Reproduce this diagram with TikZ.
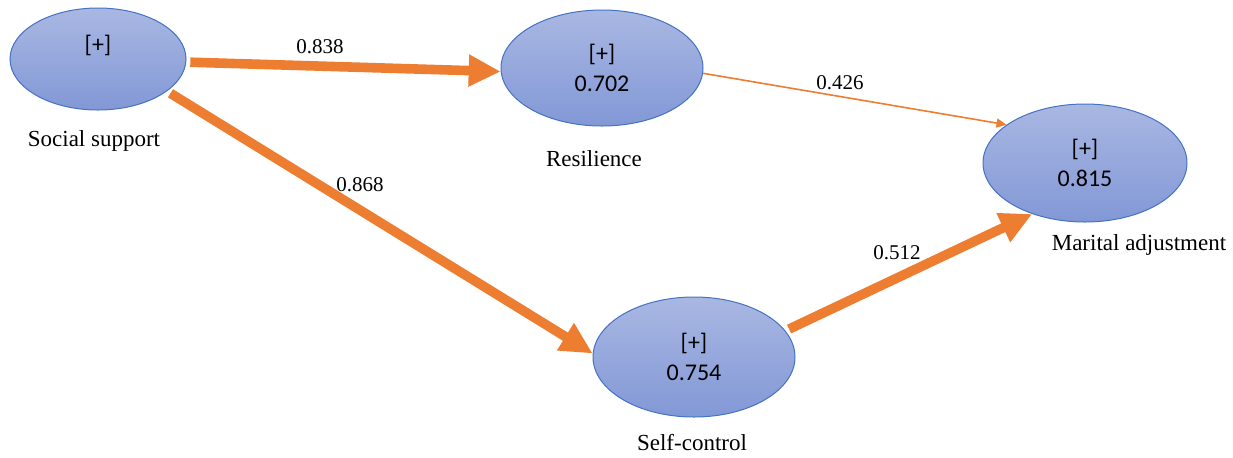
\documentclass[tikz,border=0pt]{standalone}
\usepackage{fontspec}
\setmainfont{Liberation Serif}
\newfontfamily\innerfont{Carlito}
\usetikzlibrary{arrows.meta,positioning,shapes.geometric}
\definecolor{latblue}{HTML}{4472C4}
\definecolor{filltop}{HTML}{A9B7E2}
\definecolor{fillbot}{HTML}{8298D6}
\definecolor{pathorange}{HTML}{ED7D31}
\tikzset{
  latent/.style={ellipse, draw=latblue, line width=0.5pt, top color=filltop, bottom color=fillbot,
                 minimum width=#1, align=center, inner sep=0pt, font=\innerfont\fontsize{12}{15}\selectfont},
  latent/.default={101pt},
  lbl/.style={inner sep=0pt, font=\fontsize{11.5}{13}\selectfont},
  coef/.style={inner sep=0pt, font=\fontsize{10.5}{12}\selectfont},
  thick arr/.style={-{Triangle[length=16pt, width=15pt]}, line width=4.8pt, draw=pathorange, shorten <=2pt},
  thin arr/.style={-{Triangle[length=5pt, width=4.5pt]}, line width=0.8pt, draw=pathorange},
}
\begin{document}
\begin{tikzpicture}[x=0.5pt, y=-0.5pt]
  \useasboundingbox (0,0) rectangle (1233,457);
  % latent variables
  \node[latent=88pt, minimum height=51pt] (ss) at (98,59) {[+]\\\mbox{}};
  \node[latent, minimum height=58pt] (res) at (602,68) {[+]\\0.702};
  \node[latent=102pt, minimum height=59pt] (ma) at (1085,163) {[+]\\0.815};
  \node[latent, minimum height=60pt] (sc) at (694,357) {[+]\\0.754};
  % names
  \node[lbl, below=10pt of ss, xshift=-2pt] (ssl) {Social support};
  \node[lbl, below=12pt of res, xshift=-4pt] (resl) {Resilience};
  \node[lbl, below=6pt of ma, xshift=27pt] (mal) {Marital adjustment};
  \node[lbl, below=8pt of sc, xshift=-1pt] (scl) {Self-control};
  % paths
  \draw[thick arr] (ss.-2) -- (res.182);
  \draw[thick arr] (ss.-25) -- (sc.178);
  \draw[thin arr] (res.-3) -- (ma.154);
  \draw[thick arr] (sc.16) -- (ma.224);
  % coefficients
  \node[coef] (c1) at (320,47) {0.838};
  \node[coef] (c2) at (360,185) {0.868};
  \node[coef] (c3) at (840,83) {0.426};
  \node[coef] (c4) at (897,253) {0.512};
\end{tikzpicture}
\end{document}
